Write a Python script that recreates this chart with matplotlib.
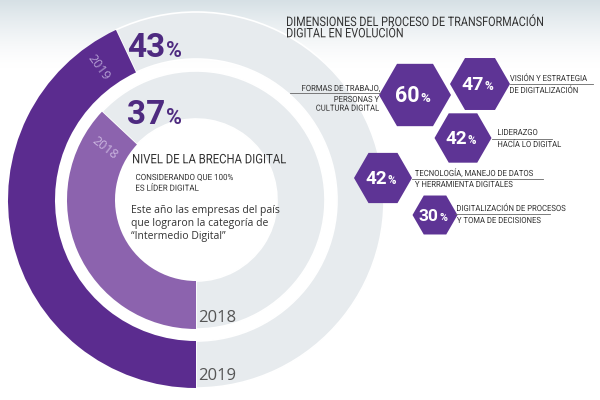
import numpy as np
import matplotlib
matplotlib.use("Agg")
import matplotlib.pyplot as plt
from matplotlib.patches import Wedge, RegularPolygon, PathPatch
from matplotlib.textpath import TextPath
from matplotlib.font_manager import FontProperties
from matplotlib.transforms import Affine2D

# --- data ---
years = ["2018", "2019"]
brecha = [37, 43]                      # % of full circle
dim_values = [60, 47, 42, 42, 30]
dim_top = ["FORMAS DE TRABAJO,", "VISIÓN Y ESTRATEGIA", "LIDERAZGO",
           "TECNOLOGÍA, MANEJO DE DATOS", "DIGITALIZACIÓN DE PROCESOS"]
dim_bottom = ["PERSONAS Y\nCULTURA DIGITAL", "DE DIGITALIZACIÓN", "HACÍA LO DIGITAL",
              "Y HERRAMIENTA DIGITALES", "Y TOMA DE DECISIONES"]

title = "DIMENSIONES DEL PROCESO DE TRANSFORMACIÓN\nDIGITAL EN EVOLUCIÓN"
subtitle = "NIVEL DE LA BRECHA DIGITAL"
note = "CONSIDERANDO QUE 100%\nES LÍDER DIGITAL"
para = "Este año las empresas del país\nque lograron la categoría de\n“Intermedio Digital”"

# --- style ---
C_2019 = "#5b2c8f"
C_2018 = "#8c63ae"
C_GREY = "#e7ebee"
C_HEX = "#5e3495"
C_NUM = "#4e2a80"
C_TXT = "#333333"
NUMF = ["Roboto", "DejaVu Sans"]
BODY = ["Open Sans", "DejaVu Sans"]
COND = FontProperties(family="Roboto")

CX, CY = 196, 200
ring_r = {"2018": (81, 129), "2019": (141, 188)}
ring_col = {"2018": C_2018, "2019": C_2019}
ring_txt = {"2018": "#cbb6e0", "2019": "#b49ed3"}


def Y(y):
    # picture row -> data y
    return 400 - y


fig = plt.figure(figsize=(6, 4), dpi=100)
ax = fig.add_axes([0, 0, 1, 1])
ax.set_xlim(0, 600)
ax.set_ylim(0, 400)
ax.axis("off")


def ntext(x, yb, s, cap, width=None, sx=None, ha="left", lead=None, color=C_TXT):
    # squeezed (condensed-looking) text drawn as paths; x/yb are picture px
    em = cap / 0.711
    lead = lead or em * 1.2
    for i, line in enumerate(s.split("\n")):
        tp = TextPath((0, 0), line, size=em, prop=COND)
        ext = tp.get_extents()
        if sx is None:
            sx = width / ext.width
        w = ext.width * sx
        x0 = x - ext.x0 * sx if ha == "left" else x - w - ext.x0 * sx
        tr = Affine2D().scale(sx, 1).translate(x0, Y(yb) - i * lead)
        ax.add_patch(PathPatch(tr.transform_path(tp), facecolor=color,
                               edgecolor="none", zorder=5))
    return sx


# soft grey band at the top
grad = np.linspace(1, 0, 80) ** 1.5
rgba = np.zeros((80, 1, 4))
rgba[..., :3] = np.array([0.84, 0.88, 0.90])
rgba[:, 0, 3] = grad
ax.imshow(rgba, extent=(0, 600, Y(70), 400), aspect="auto", zorder=0)

# --- rings ---
for yr, p in zip(years, brecha):
    r_in, r_out = ring_r[yr]
    end = 270 - 3.6 * p
    ax.add_patch(Wedge((CX, Y(CY)), r_out, end, 270, width=r_out - r_in,
                       facecolor=ring_col[yr], edgecolor="none", zorder=2))
    ax.add_patch(Wedge((CX, Y(CY)), r_out, -90, end, width=r_out - r_in,
                       facecolor=C_GREY, edgecolor="white", lw=1.2, zorder=1))
    # year written radially near the arc end
    ang = end + (11 if yr == "2019" else 13.5)
    rm = (r_in + r_out) / 2
    tx = CX + rm * np.cos(np.radians(ang))
    ty = Y(CY) + rm * np.sin(np.radians(ang))
    ax.text(tx, ty, yr, rotation=ang - 180 if yr == "2019" else -38,
            ha="center", va="center", fontsize=9, color=ring_txt[yr],
            family=BODY, zorder=3, rotation_mode="anchor")

# big percentages
for val, base in zip(brecha, [124, 57]):
    ax.text(165, Y(base), str(val), ha="right", va="baseline", fontsize=24,
            color=C_NUM, family=NUMF, weight="semibold")
    ax.text(166, Y(base), "%", ha="left", va="baseline", fontsize=15.5,
            color=C_NUM, family=NUMF, weight="semibold")

# bottom year labels
ax.text(198, Y(322), years[0], ha="left", va="baseline", fontsize=12,
        color="#555555", family=BODY)
ax.text(198, Y(380), years[1], ha="left", va="baseline", fontsize=12,
        color="#555555", family=BODY)

# centre text
ntext(133, 163.3, subtitle, cap=9.3, width=153)
ntext(136, 180, note, cap=6, width=97, lead=10.7)
ax.text(131, Y(205), para, ha="left", va="top", fontsize=7.5,
        color=C_TXT, family=BODY, linespacing=1.25)

# --- right panel ---
ntext(287, 26, title, cap=9.3, width=256, lead=11.3)

hex_xy = [(415, 95), (480, 84), (463, 138), (383, 178), (435, 215)]
hex_r = [36, 30, 28.5, 29, 22.5]
num_fs = [15.5, 14, 13.5, 13.5, 12.5]
# label: x, baseline top line, baseline bottom line, side
lab = [(380, 91, 102, "right"), (510, 81, 93, "left"),
       (498, 135, 147, "left"), (415, 176, 187, "left"),
       (457, 211, 223, "left")]
under = [(290, 380, 93.3), (510, 593, 83.5), (492, 552, 138.5),
         (412, 543, 179), (455, 550, 213.5)]

# one common squeeze for all side labels, taken from "VISIÓN Y ESTRATEGIA"
tp_ref = TextPath((0, 0), dim_top[1], size=6 / 0.711, prop=COND)
SX_LAB = 77 / tp_ref.get_extents().width

for (hx, hy), r, v, fs, (lx, ly, lb, side), (u0, u1, uy), top, bot in zip(
        hex_xy, hex_r, dim_values, num_fs, lab, under, dim_top, dim_bottom):
    ax.add_patch(RegularPolygon((hx, Y(hy)), 6, radius=r, orientation=np.pi / 6,
                                facecolor=C_HEX, edgecolor="none", zorder=3))
    ax.text(hx + fs * 0.28, Y(hy) - fs * 0.45, str(v), ha="right", va="baseline",
            fontsize=fs, color="white", family=NUMF, weight="bold", zorder=4)
    ax.text(hx + fs * 0.32, Y(hy) - fs * 0.45, "%", ha="left", va="baseline",
            fontsize=fs * 0.62, color="white", family=NUMF, weight="bold", zorder=4)
    ax.plot([u0, u1], [Y(uy), Y(uy)], color="#666666", lw=0.6, zorder=3)
    ntext(lx, ly, top, cap=6, sx=SX_LAB, ha=side)
    ntext(lx - (1 if side == "right" else 0), lb, bot, cap=6, sx=SX_LAB,
          ha=side, lead=8.7)

fig.savefig("out.png", dpi=100)
